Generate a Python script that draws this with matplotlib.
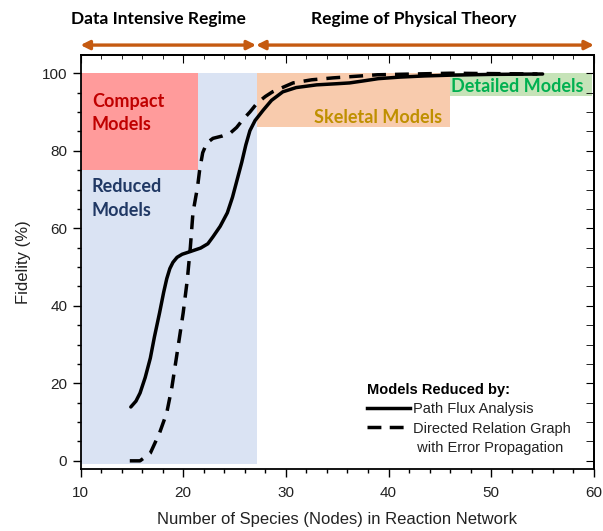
import matplotlib.pyplot as plt
from matplotlib.lines import Line2D
from matplotlib.ticker import MultipleLocator

# Path Flux Analysis (solid)
pfa_x = [14.9, 15.4, 15.8, 16.3, 16.8, 17.2, 17.7, 18.1, 18.4, 18.7, 19.0, 19.4,
         19.9, 20.7, 21.7, 22.4, 22.9, 23.6, 24.3, 24.8, 25.2, 25.7, 26.1, 26.5,
         27.0, 27.8, 28.6, 29.7, 31.0, 33.0, 35.0, 36.2, 37.5, 39.0, 41.1, 43.5,
         46.0, 50.0, 55.0]
pfa_y = [13.9, 15.4, 17.5, 21.5, 26.5, 32.0, 38.2, 43.5, 47.0, 49.6, 51.2, 52.5,
         53.3, 54.0, 54.9, 56.0, 57.8, 60.5, 64.0, 68.0, 72.0, 77.0, 81.5, 85.2,
         87.8, 90.5, 93.0, 95.2, 96.3, 97.0, 97.3, 97.5, 98.0, 98.6, 99.0, 99.3,
         99.5, 99.7, 99.8]

# Directed Relation Graph with Error Propagation (dashed)
drg_x = [14.8, 15.8, 16.8, 17.7, 18.4, 18.9, 19.5, 20.0, 20.4, 20.7, 20.95, 21.4,
         21.6, 21.9, 22.3, 22.9, 23.8, 24.6, 25.2, 25.8, 26.5, 27.2, 28.0, 28.7,
         30.7, 32.5, 34.6, 38.9, 46.0, 54.5]
drg_y = [0.0, 0.0, 2.0, 7.2, 12.4, 19.0, 29.4, 38.2, 46.7, 55.2, 64.0, 70.7,
         75.0, 79.5, 82.0, 83.2, 83.8, 84.6, 86.0, 88.0, 90.0, 92.3, 94.0, 95.2,
         97.5, 98.3, 98.8, 99.6, 100.0, 99.8]

# shaded regions: (x0, x1, y0, y1, colour)
regions = [
    (10, 27.2, -0.8, 100, '#DAE3F3'),
    (10, 21.4, 75.1, 100, '#FF9B9B'),
    (27.2, 46.0, 86.1, 100, '#F8CBAD'),
    (46.0, 59.8, 94.0, 100, '#C6E3B8'),
]

fig = plt.figure(figsize=(6.03, 5.31), dpi=100)
ax = fig.add_axes([0.1335, 0.1168, 0.8515, 0.7796])

for x0, x1, y0, y1, c in regions:
    ax.fill_between([x0, x1], y0, y1, color=c, lw=0, zorder=0)

ax.plot(pfa_x, pfa_y, color='black', lw=2.5, solid_capstyle='round', zorder=3)
ax.plot(drg_x, drg_y, color='black', lw=2.5, dashes=(4, 2.6), zorder=3)

cal = 'Lato'
ax.text(11.1, 95.0, 'Compact\nModels', color='#C00000', fontsize=13, fontweight='bold',
        family=cal, va='top', ha='left', linespacing=1.45)
ax.text(11.1, 73.0, 'Reduced\nModels', color='#203864', fontsize=13, fontweight='bold',
        family=cal, va='top', ha='left', linespacing=1.5)
ax.text(39.0, 88.6, 'Skeletal Models', color='#BF9000', fontsize=13, fontweight='bold',
        family=cal, va='center', ha='center')
ax.text(59.0, 96.6, 'Detailed Models', color='#00B050', fontsize=13, fontweight='bold',
        family=cal, va='center', ha='right')

# regime arrows above the axes
acol = '#C55A11'
for a, b in [(10, 27.1), (27.1, 60)]:
    ax.annotate('', xy=(a, 1.024), xytext=(b, 1.024),
                xycoords=('data', 'axes fraction'), textcoords=('data', 'axes fraction'),
                arrowprops=dict(arrowstyle='<|-|>', color=acol, lw=2.4,
                                mutation_scale=13, shrinkA=0, shrinkB=0),
                annotation_clip=False)
ax.text(17.6, 1.088, 'Data Intensive Regime', transform=ax.get_xaxis_transform(),
        ha='center', va='center', fontsize=12.5, fontweight='bold', family=cal)
ax.text(42.4, 1.088, 'Regime of Physical Theory', transform=ax.get_xaxis_transform(),
        ha='center', va='center', fontsize=12.5, fontweight='bold', family=cal)

ax.set_xlim(10, 60)
ax.set_ylim(-2.1, 104.7)
ax.xaxis.set_major_locator(MultipleLocator(10))
ax.xaxis.set_minor_locator(MultipleLocator(2))
ax.yaxis.set_major_locator(MultipleLocator(20))
ax.yaxis.set_minor_locator(MultipleLocator(5))

arial = 'Liberation Sans'
ax.tick_params(which='both', direction='out', labelsize=11, width=1, colors='black')
ax.tick_params(which='major', length=6)
ax.tick_params(which='minor', length=3)
for lab in ax.get_xticklabels() + ax.get_yticklabels():
    lab.set_family(arial)
    lab.set_color('#222222')
ax.tick_params(axis='x', pad=6)

# inward ticks on top and right
sec_x = ax.secondary_xaxis('top')
sec_x.xaxis.set_major_locator(MultipleLocator(10))
sec_x.xaxis.set_minor_locator(MultipleLocator(2))
sec_x.tick_params(which='both', direction='in', labeltop=False)
sec_x.tick_params(which='major', length=6)
sec_x.tick_params(which='minor', length=3)
sec_y = ax.secondary_yaxis('right')
sec_y.yaxis.set_major_locator(MultipleLocator(20))
sec_y.yaxis.set_minor_locator(MultipleLocator(5))
sec_y.tick_params(which='both', direction='in', labelright=False)
sec_y.tick_params(which='major', length=6)
sec_y.tick_params(which='minor', length=6)
for s in ax.spines.values():
    s.set_linewidth(1.3)
sec_x.spines['top'].set_linewidth(1.3)
sec_y.spines['right'].set_linewidth(1.3)

ax.set_xlabel('Number of Species (Nodes) in Reaction Network', fontsize=12,
              family=arial, color='#222222', labelpad=9)
ax.set_ylabel('Fidelity (%)', fontsize=12, family=arial, color='#222222', labelpad=8)

handles = [Line2D([], [], color='black', lw=2.5),
           Line2D([], [], color='black', lw=2.5, dashes=(4, 2.4)),
           Line2D([], [], color='none')]
labels = ['Path Flux Analysis', 'Directed Relation Graph', ' with Error Propagation']
leg = ax.legend(handles, labels, title='Models Reduced by:', loc='lower right',
                bbox_to_anchor=(0.974, 0.01), frameon=False, handlelength=2.9,
                handletextpad=0.2, labelspacing=0.35, borderaxespad=0.3,
                prop={'family': arial, 'size': 10.5},
                title_fontproperties={'family': arial, 'size': 10.5, 'weight': 'bold'})
leg._legend_box.align = 'left'
for t in leg.get_texts():
    t.set_color('#222222')

fig.savefig('out.png', dpi=100)
